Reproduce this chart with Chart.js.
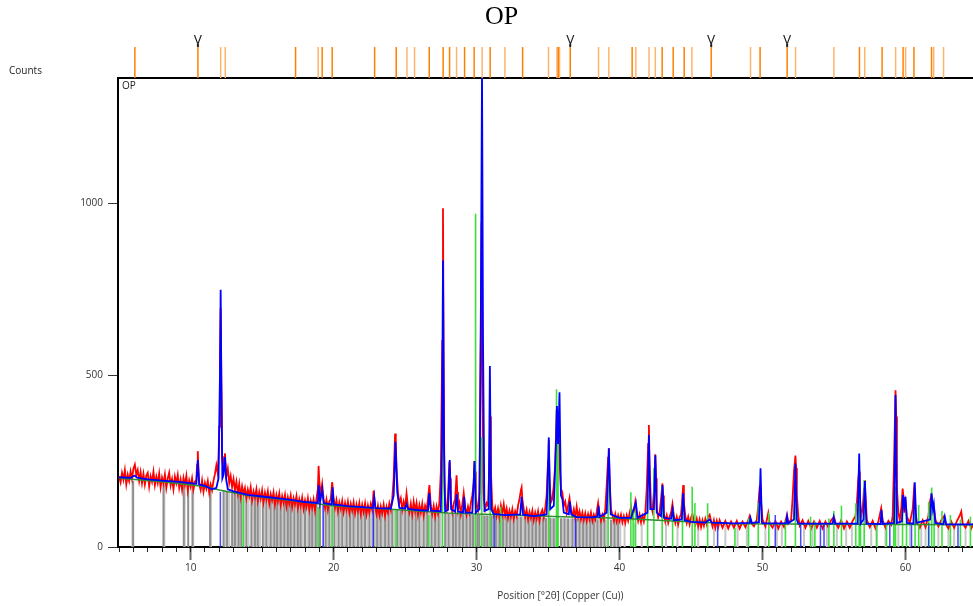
<!DOCTYPE html>
<html>
<head>
<meta charset="utf-8">
<script src="https://cdn.jsdelivr.net/npm/chart.js@4.4.1/dist/chart.umd.min.js"></script>
<style>
  html, body { margin: 0; padding: 0; background: #fff; }
  #wrap { width: 973px; height: 606px; position: relative; }
</style>
</head>
<body>
<div id="wrap"><canvas id="xrd"></canvas></div>
<script>
// axis range, ticks
var xMin = 4.92, xMax = 64.72;
var xFullMax = 66.8;    // the scan runs past the visible edge; axis title is centred on it
var yMax = 1365;
var yTickValues = [0, 500, 1000];
var xMajorTicks = [10, 20, 30, 40, 50, 60];
var xTitle = 'Position [°2θ] (Copper (Cu))';

// observed pattern [2theta, counts]
var observed = [
  [5.0,205],[5.1,188],[5.2,216],[5.3,196],[5.4,224],[5.5,182],[5.6,210],[5.7,192],[5.8,220],[5.9,198],
  [6.0,228],[6.1,240],[6.2,210],[6.3,224],[6.4,192],[6.5,218],[6.6,186],[6.7,213],[6.8,182],[6.9,208],
  [7.0,216],[7.1,176],[7.2,206],[7.3,190],[7.4,219],[7.5,180],[7.6,205],[7.7,186],[7.8,214],[7.9,174],
  [8.0,202],[8.1,184],[8.2,211],[8.3,172],[8.4,200],[8.5,216],[8.6,179],[8.7,198],[8.8,168],[8.9,205],
  [9.0,186],[9.1,210],[9.2,172],[9.3,196],[9.4,166],[9.5,201],[9.6,181],[9.7,207],[9.8,164],[9.9,194],
  [10.0,176],[10.1,200],[10.2,168],[10.3,190],[10.4,196],[10.45,240],[10.5,279],[10.55,225],[10.6,182],[10.7,166],
  [10.8,194],[10.9,161],[11.0,187],[11.1,170],[11.2,192],[11.3,158],[11.4,182],[11.5,166],[11.6,194],[11.7,212],
  [11.8,238],[11.9,214],[11.95,260],[12.0,350],[12.05,520],[12.1,695],[12.15,480],[12.2,260],[12.25,240],[12.3,232],
  [12.35,262],[12.4,273],[12.45,238],[12.5,205],[12.6,228],[12.7,186],[12.8,207],[12.9,174],[13.0,198],[13.1,166],
  [13.2,190],[13.3,156],[13.4,184],[13.5,146],[13.6,177],[13.7,154],[13.8,172],[13.9,142],[14.0,167],[14.1,148],
  [14.2,174],[14.3,136],[14.4,162],[14.5,144],[14.6,168],[14.7,134],[14.8,160],[14.9,140],[15.0,165],[15.1,130],
  [15.2,158],[15.3,138],[15.4,162],[15.5,126],[15.6,154],[15.7,136],[15.8,159],[15.9,124],[16.0,152],[16.1,132],
  [16.2,156],[16.3,122],[16.4,148],[16.5,129],[16.6,152],[16.7,118],[16.8,145],[16.9,126],[17.0,150],[17.1,116],
  [17.2,142],[17.3,124],[17.4,148],[17.5,114],[17.6,139],[17.7,120],[17.8,144],[17.9,111],[18.0,136],[18.1,116],
  [18.2,142],[18.3,108],[18.4,134],[18.5,114],[18.6,138],[18.7,106],[18.8,140],[18.9,170],[18.95,236],[19.0,190],
  [19.1,150],[19.2,183],[19.3,140],[19.4,114],[19.5,138],[19.6,108],[19.7,132],[19.8,140],[19.9,189],[20.0,142],
  [20.1,114],[20.2,136],[20.3,104],[20.4,130],[20.5,111],[20.6,134],[20.7,102],[20.8,128],[20.9,108],[21.0,132],
  [21.1,100],[21.2,126],[21.3,106],[21.4,130],[21.5,98],[21.6,124],[21.7,104],[21.8,128],[21.9,96],[22.0,123],
  [22.1,102],[22.2,127],[22.3,95],[22.4,121],[22.5,100],[22.6,125],[22.7,108],[22.8,164],[22.9,120],[23.0,96],
  [23.1,120],[23.2,92],[23.3,118],[23.4,98],[23.5,123],[23.6,91],[23.7,117],[23.8,100],[23.9,127],[24.0,108],
  [24.1,140],[24.2,200],[24.3,330],[24.35,300],[24.4,230],[24.5,160],[24.6,128],[24.7,142],[24.8,108],[24.9,132],
  [25.0,114],[25.1,156],[25.2,118],[25.3,100],[25.4,126],[25.5,96],[25.6,132],[25.7,104],[25.8,128],[25.9,94],
  [26.0,122],[26.1,100],[26.2,126],[26.3,92],[26.4,120],[26.5,106],[26.6,140],[26.7,180],[26.8,120],[26.9,96],
  [27.0,120],[27.1,90],[27.2,118],[27.3,98],[27.4,130],[27.5,220],[27.6,600],[27.65,986],[27.7,520],[27.75,190],
  [27.8,122],[27.9,108],[28.0,150],[28.1,248],[28.15,200],[28.2,130],[28.3,102],[28.4,126],[28.5,140],[28.6,209],
  [28.65,160],[28.7,110],[28.8,128],[28.9,96],[29.0,124],[29.1,157],[29.2,116],[29.3,94],[29.4,118],[29.5,100],
  [29.6,128],[29.7,150],[29.8,186],[29.85,250],[29.9,220],[29.95,150],[30.0,120],[30.1,108],[30.2,160],[30.3,620],
  [30.35,944],[30.4,560],[30.45,180],[30.5,140],[30.6,110],[30.7,128],[30.8,120],[30.9,250],[30.95,380],[31.0,220],
  [31.1,118],[31.2,94],[31.3,114],[31.4,90],[31.5,112],[31.6,86],[31.7,120],[31.8,96],[31.9,124],[32.0,92],
  [32.1,112],[32.2,84],[32.3,106],[32.4,88],[32.5,110],[32.6,82],[32.7,104],[32.8,90],[32.9,120],[33.0,140],
  [33.1,165],[33.15,173],[33.2,140],[33.3,110],[33.4,88],[33.5,108],[33.6,80],[33.7,102],[33.8,84],[33.9,106],
  [34.0,78],[34.1,100],[34.2,82],[34.3,104],[34.4,76],[34.5,98],[34.6,108],[34.7,86],[34.8,112],[34.9,150],
  [35.0,250],[35.05,311],[35.1,200],[35.2,130],[35.3,140],[35.4,180],[35.5,240],[35.6,400],[35.65,300],[35.7,340],
  [35.75,330],[35.8,250],[35.9,170],[36.0,158],[36.1,120],[36.2,132],[36.3,100],[36.4,120],[36.5,142],[36.6,106],
  [36.7,92],[36.8,110],[36.9,84],[37.0,117],[37.1,86],[37.2,104],[37.3,80],[37.4,100],[37.5,78],[37.6,98],
  [37.7,76],[37.8,96],[37.9,80],[38.0,100],[38.1,76],[38.2,94],[38.3,80],[38.4,102],[38.5,128],[38.6,96],
  [38.7,76],[38.8,94],[38.9,80],[39.0,110],[39.1,180],[39.2,260],[39.25,287],[39.3,200],[39.4,110],[39.5,94],
  [39.6,76],[39.7,96],[39.8,74],[39.9,92],[40.0,76],[40.1,94],[40.2,72],[40.3,90],[40.4,70],[40.5,92],
  [40.6,76],[40.7,98],[40.8,117],[40.9,88],[41.0,104],[41.1,132],[41.2,100],[41.3,76],[41.4,94],[41.5,72],
  [41.6,90],[41.7,74],[41.8,100],[41.9,170],[42.0,300],[42.05,355],[42.1,240],[42.2,120],[42.3,104],[42.4,160],
  [42.5,270],[42.55,200],[42.6,110],[42.7,86],[42.8,100],[42.9,140],[43.0,185],[43.05,150],[43.1,96],[43.2,74],
  [43.3,92],[43.4,70],[43.5,88],[43.6,100],[43.7,125],[43.8,90],[43.9,70],[44.0,88],[44.1,66],[44.2,86],
  [44.3,96],[44.4,150],[44.45,180],[44.5,130],[44.6,90],[44.7,70],[44.8,88],[44.9,66],[45.0,86],[45.1,96],
  [45.2,72],[45.3,64],[45.4,82],[45.5,60],[45.6,80],[45.7,58],[45.8,78],[45.9,62],[46.0,82],[46.1,66],
  [46.2,88],[46.3,94],[46.4,76],[46.5,60],[46.6,78],[46.7,56],[46.8,76],[46.9,58],[47.0,78],[47.2,56],
  [47.4,76],[47.6,54],[47.8,74],[48.0,56],[48.2,76],[48.4,54],[48.6,74],[48.8,58],[49.0,78],[49.1,90],
  [49.2,70],[49.4,60],[49.6,80],[49.7,120],[49.8,175],[49.85,180],[49.9,130],[50.0,80],[50.2,60],[50.4,99],
  [50.5,68],[50.7,56],[50.9,76],[51.1,54],[51.3,74],[51.5,58],[51.7,92],[51.8,68],[52.0,80],[52.1,140],
  [52.2,220],[52.3,266],[52.35,230],[52.4,150],[52.5,90],[52.6,62],[52.8,78],[53.0,56],[53.2,76],[53.4,54],
  [53.6,74],[53.8,56],[54.0,76],[54.2,54],[54.4,74],[54.6,58],[54.8,78],[55.0,88],[55.1,70],[55.3,56],
  [55.5,78],[55.7,54],[55.9,74],[56.1,56],[56.3,76],[56.5,90],[56.6,130],[56.7,200],[56.75,220],[56.8,150],
  [56.9,90],[57.0,110],[57.1,170],[57.15,195],[57.2,150],[57.3,78],[57.5,58],[57.7,76],[57.9,54],[58.1,74],
  [58.3,113],[58.4,78],[58.6,56],[58.8,76],[59.0,64],[59.1,90],[59.2,250],[59.3,456],[59.35,380],[59.4,170],
  [59.5,100],[59.6,78],[59.7,110],[59.8,170],[59.85,150],[59.9,100],[60.0,130],[60.1,88],[60.3,70],[60.5,110],
  [60.6,170],[60.65,160],[60.7,100],[60.8,72],[61.0,56],[61.2,78],[61.4,58],[61.6,90],[61.7,130],[61.8,150],
  [61.85,140],[61.9,120],[62.0,110],[62.1,78],[62.3,60],[62.5,78],[62.7,90],[62.8,68],[63.0,54],[63.2,74],
  [63.4,56],[63.6,76],[63.8,92],[63.9,103],[64.0,68],[64.2,56],[64.4,76],[64.6,54],[64.8,72],[65.0,60]
];

// calculated profile
var calculated = [
  [5.0,203],[5.8,201],[6.0,206],[6.1,208],[6.25,202],[7.0,197],[8.0,193],[9.0,190],[10.0,186],[10.4,184],
  [10.5,253],[10.6,182],[11.0,178],[11.5,168],[11.8,172],[11.95,200],[12.05,500],[12.1,749],[12.15,480],[12.22,200],
  [12.3,210],[12.4,262],[12.48,200],[12.6,168],[13.0,162],[13.5,157],[14.0,152],[15.0,147],[16.0,142],[17.0,137],
  [18.0,131],[18.9,128],[18.95,180],[19.05,130],[19.2,169],[19.3,128],[19.85,124],[19.93,174],[20.0,124],[21.0,119],
  [22.0,116],[22.75,114],[22.84,146],[22.92,114],[23.0,113],[24.0,112],[24.2,150],[24.33,306],[24.45,160],[24.6,114],
  [25.0,112],[25.1,125],[25.2,111],[26.0,107],[26.6,106],[26.69,157],[26.8,106],[27.5,104],[27.58,300],[27.65,834],
  [27.72,300],[27.8,104],[28.0,108],[28.12,253],[28.22,110],[28.5,103],[28.6,154],[28.7,103],[29.05,100],[29.13,146],
  [29.22,100],[29.7,100],[29.86,250],[29.95,100],[30.2,110],[30.3,700],[30.38,1390],[30.45,600],[30.55,105],[30.85,110],
  [30.93,527],[31.02,110],[31.2,96],[32.0,93],[33.05,95],[33.15,146],[33.25,94],[34.0,90],[34.9,95],[35.05,319],
  [35.15,110],[35.4,120],[35.55,300],[35.62,410],[35.7,300],[35.8,450],[35.9,150],[36.0,140],[36.1,100],[36.45,95],
  [36.53,132],[36.62,95],[37.0,87],[38.0,86],[38.45,88],[38.53,120],[38.6,88],[39.1,100],[39.25,287],[39.38,95],
  [40.0,85],[40.8,85],[41.14,129],[41.25,85],[41.95,100],[42.05,326],[42.15,110],[42.4,110],[42.5,267],[42.6,100],
  [42.9,90],[43.0,180],[43.1,85],[43.6,82],[43.71,110],[43.8,78],[44.35,80],[44.45,157],[44.55,78],[45.0,73],
  [46.0,71],[46.3,80],[46.45,71],[47.0,70],[48.0,69],[49.1,70],[49.16,84],[49.25,70],[49.75,72],[49.86,229],
  [49.95,72],[50.0,69],[51.65,69],[51.72,90],[51.8,69],[52.2,80],[52.3,243],[52.4,80],[52.5,68],[54.9,68],
  [54.98,87],[55.08,68],[56.65,68],[56.76,272],[56.86,68],[57.06,80],[57.16,192],[57.26,68],[58.25,67],[58.32,108],
  [58.4,67],[59.2,70],[59.3,442],[59.4,70],[59.75,75],[59.83,151],[59.92,120],[60.0,146],[60.1,70],[60.55,68],
  [60.65,188],[60.75,70],[61.72,80],[61.82,156],[61.92,110],[61.98,125],[62.08,70],[62.65,66],[62.75,88],[62.85,66],
  [65.0,66]
];

// fitted background
var background = [
  [5,200],[8,190],[11,176],[12,166],[14,150],[17,135],[20,120],[24,110],[28,99],[32,93],
  [36,88],[40,84],[44,75],[48,68],[56,66],[65,65]
];

// reference sticks [2theta, height]
var grayDark = [
  [5.98,192],[8.1,182],[9.52,180],[9.83,178],[10.13,176],[11.36,168],
  [12.3,165],[12.55,162],[12.9,160],[13.1,158],[13.35,156],[13.55,155],[13.9,152],[14.25,150],[14.5,148],[14.7,147],
  [15.05,145],[15.3,144],[15.6,142],[15.85,141],[16.05,140],[16.3,139],[16.55,138],[16.8,136],[17.0,135],[17.25,134],
  [17.5,133],[17.7,131],[18.0,130],[18.3,128],[18.5,127],[18.75,126],[19.05,124],[19.45,122],[19.7,121],[20.05,120],
  [20.35,119],[20.6,118],[20.9,117],[21.15,116],[21.4,116],[21.7,115],[21.95,114],[22.2,113],[22.5,112],[22.8,112],
  [23.05,111],[23.3,110],[23.6,110],[23.85,109],[24.1,108],[24.45,108],[24.7,107],[25.0,107],[25.25,106],[25.5,105],
  [25.75,104],[26.0,104],[26.3,103],[26.55,102],[26.85,101],[27.1,100],[27.35,100],[27.8,99],[28.05,98],[28.35,97],
  [28.55,97],[28.8,96],[29.05,95],[29.3,95],[29.55,94],[29.75,94],[30.05,93],[30.2,93],[30.55,92],[30.75,92],
  [31.05,91],[31.35,91],[31.6,90],[31.85,90],[32.1,89],[32.35,89],[32.6,88],[32.85,88],[33.1,88],[33.4,87],
  [33.65,87],[33.9,86],[34.15,86],[34.4,86],[34.65,85],[34.85,85],[35.15,85],[35.4,84],[35.9,84],[36.15,84],
  [36.4,83],[36.7,83],[36.95,83],[37.2,82],[37.45,82],[37.7,82],[37.95,81],[38.2,81],[38.45,81],[38.7,80],
  [38.95,80],[39.4,79],[39.65,79],[39.9,78]
];
var grayLight = [
  [5.93,192],[8.16,182],[9.58,180],[10.18,176],[11.42,168],[12.42,164],[12.7,161],[13.0,159],[13.22,157],[13.45,156],
  [13.75,153],[14.05,151],[14.38,149],[14.6,148],[14.85,146],[15.18,145],[15.45,143],[15.72,142],[15.95,141],[16.18,140],
  [16.42,139],[16.68,137],[16.9,136],[17.12,135],[17.38,134],[17.6,132],[17.85,131],[18.15,129],[18.4,128],[18.62,127],
  [18.85,125],[19.3,123],[19.58,122],[19.85,120],[20.2,119],[20.48,118],[20.75,118],[21.02,117],[21.28,116],[21.55,115],
  [21.82,114],[22.08,114],[22.35,113],[22.65,112],[22.95,111],[23.18,111],[23.45,110],[23.72,109],[23.98,109],[24.25,108],
  [24.58,107],[24.85,107],[25.12,106],[25.38,105],[25.62,105],[25.88,104],[26.15,103],[26.42,102],[26.7,102],[26.98,101],
  [27.22,100],[27.48,100],[27.92,99],[28.2,98],[28.45,97],[28.68,96],[28.92,96],[29.18,95],[29.42,94],[29.65,94],
  [29.88,93],[30.12,93],[30.45,92],[30.65,92],[30.88,91],[31.18,91],[31.48,90],[31.72,90],[31.98,89],[32.22,89],
  [32.48,88],[32.72,88],[32.98,88],[33.25,87],[33.52,87],[33.78,86],[34.02,86],[34.28,86],[34.52,85],[34.75,85],
  [35.0,85],[35.28,84],[35.52,84],[36.02,84],[36.28,83],[36.55,83],[36.82,83],[37.08,82],[37.32,82],[37.58,82],
  [37.82,81],[38.08,81],[38.32,81],[38.58,80],[38.82,80],[39.1,80],[39.52,79],[39.78,79],[40.05,78],
  [40.35,70],[41.05,69],[41.55,68],[43.25,67],[44.05,66],[45.5,66],[46.6,66],[47.4,66],[48.25,66],[48.9,66],
  [50.2,66],[51.0,66],[51.35,66],[52.9,66],[53.5,66],[54.5,66],[55.2,66],[55.85,66],[56.25,66],[57.6,66],
  [58.0,66],[58.6,66],[59.5,66],[60.3,66],[61.1,66],[61.4,66],[62.3,66],[63.0,66],[63.4,66],[64.2,66]
];
var greenSticks = [
  [13.68,146],[18.92,117],[19.9,161],[24.36,110],[26.64,93],[27.62,340],[29.93,970],[30.36,320],[30.95,384],[31.68,117],
  [35.05,238],[35.59,459],[35.7,300],[39.2,214],[40.79,159],[40.95,110],[41.12,108],[41.96,151],[42.4,230],[42.98,175],
  [43.71,108],[44.4,132],[45.08,175],[45.27,128],[46.16,127],[48.07,55],[49.02,84],[49.7,128],[50.44,100],[51.6,78],
  [52.3,185],[53.36,88],[53.66,74],[54.64,83],[54.99,105],[55.52,120],[56.52,127],[56.76,170],[56.85,100],[57.11,195],
  [57.97,69],[58.67,70],[59.18,88],[59.3,175],[59.79,108],[60.07,98],[60.67,100],[60.92,122],[61.62,132],[61.83,173],
  [62.0,105],[62.55,105],[63.14,93],[63.84,80],[64.54,88]
];
var blueSticks = [
  [12.08,160],[19.27,122],[22.77,110],[31.23,95],[36.92,82],[46.86,62],[50.89,93],[52.67,68],[54.05,66],[54.3,66],
  [58.9,64],[60.42,68],[61.62,70],[63.67,66]
];

// phase position marks in the top strip
var orangeDark = [6.1,10.51,17.34,19.2,19.9,22.87,24.38,26.69,27.66,28.11,29.16,29.83,30.95,33.22,35.71,36.55,
  40.88,42.98,43.75,44.52,46.41,49.83,51.72,56.78,58.36,59.83,60.59,61.82];
var orangeLight = [12.1,12.42,18.92,25.13,25.66,28.6,30.39,31.98,35.03,35.62,35.8,38.53,39.25,41.14,42.06,42.5,
  45.06,49.16,52.31,54.99,57.15,59.31,60.01,61.97,62.66];
var vMarks = [10.51, 36.55, 46.41, 51.72];

var stripTop = 31;      // tick height in strip units
var stripRange = 44.8;

function sticks(list, base) {
  var pts = [];
  list.forEach(function (s) {
    pts.push({x: s[0], y: base}, {x: s[0], y: s[1]}, {x: s[0], y: null});
  });
  return pts;
}
function line(list) {
  return list.map(function (p) { return {x: p[0], y: p[1]}; });
}

function lineSet(label, data, color, width, order, axis) {
  return {
    label: label, data: data, borderColor: color, borderWidth: width,
    pointRadius: 0, tension: 0, fill: false, spanGaps: false,
    order: order, yAxisID: axis || 'y'
  };
}

var textPlugin = {
  id: 'xrdText',
  afterDraw: function (chart) {
    var ctx = chart.ctx, x = chart.scales.x, yS = chart.scales.yS, y = chart.scales.y;
    ctx.save();
    ctx.fillStyle = '#222';
    ctx.font = '10px "Open Sans"';
    ctx.textBaseline = 'middle';
    ctx.textAlign = 'left';
    ctx.fillText('Counts', 9, yS.getPixelForValue(7));
    ctx.fillText('OP', chart.chartArea.left + 4, y.top + 8);
    ctx.fillStyle = '#333';
    ctx.textAlign = 'center';
    ctx.fillText(xTitle, x.getPixelForValue((xMin + xFullMax) / 2), x.bottom - 10);
    ctx.fillStyle = '#222';
    ctx.font = '12px "DejaVu Sans"';
    vMarks.forEach(function (v) {
      ctx.fillText('V', x.getPixelForValue(v), yS.getPixelForValue(37));
    });
    ctx.restore();
  }
};

var datasets = [
  lineSet('calc', line(calculated), '#0000ff', 1.8, 1),
  lineSet('bg', line(background), '#2f8f2f', 1.5, 2),
  lineSet('blueSticks', sticks(blueSticks, 0), 'rgba(40,40,255,0.85)', 1.5, 3),
  lineSet('green', sticks(greenSticks, 0), '#3ee03e', 1.6, 4),
  lineSet('obs', line(observed), '#ff0000', 1.8, 5),
  lineSet('grayDark', sticks(grayDark, 0), '#8f8f8f', 2, 6),
  lineSet('grayLight', sticks(grayLight, 0), '#c8c8c8', 2, 7),
  lineSet('orange', sticks(orangeDark.map(function (t) { return [t, stripTop]; }), 0), '#ff8000', 1.5, 8, 'yS'),
  lineSet('orangeLight', sticks(orangeLight.map(function (t) { return [t, stripTop]; }), 0), '#ffb46e', 1.5, 9, 'yS'),
  lineSet('vStem', sticks(vMarks.map(function (t) { return [t, stripTop + 3]; }), stripTop), '#222', 2, 0, 'yS')
];

new Chart(document.getElementById('xrd'), {
  type: 'line',
  data: { datasets: datasets },
  plugins: [textPlugin],
  options: {
    responsive: true,
    maintainAspectRatio: false,
    animation: false,
    events: [],
    layout: { padding: { left: 0, right: -30, top: 0, bottom: 0 } },
    font: { family: 'Open Sans' },
    plugins: {
      legend: { display: false },
      tooltip: { enabled: false },
      title: {
        display: true, text: 'OP', color: '#000',
        font: { family: 'Liberation Serif', size: 26, weight: 'normal' },
        padding: { top: 2, bottom: 0 }
      }
    },
    scales: {
      x: {
        type: 'linear', position: 'bottom', min: xMin, max: xMax,
        afterBuildTicks: function (s) { s.ticks = xMajorTicks.map(function (v) { return {value: v}; }); },
        afterFit: function (s) { s.height = 59; },
        grid: { drawOnChartArea: false, tickLength: 13, tickColor: '#666', tickWidth: 2 },
        border: { color: '#000', width: 2 },
        ticks: { color: '#333', padding: 2, maxRotation: 0, autoSkip: false,
          font: { family: 'Open Sans', size: 10 },
          callback: function (v) { return String(v); } }
      },
      xMinor: {
        type: 'linear', axis: 'x', position: { y: 0 }, min: xMin, max: xMax,
        afterBuildTicks: function (s) {
          var t = [];
          for (var v = Math.ceil(xMin); v <= Math.floor(xMax); v++) t.push({value: v});
          s.ticks = t;
        },
        grid: { drawOnChartArea: false, tickLength: 5, tickColor: '#222', tickWidth: 1 },
        border: { display: false },
        ticks: { display: false }
      },
      y: {
        type: 'linear', position: 'left', min: 0, max: yMax,
        stack: 'v', stackWeight: 469, weight: 0,
        afterBuildTicks: function (s) { s.ticks = yTickValues.map(function (v) { return {value: v}; }); },
        afterFit: function (s) { s.width = 118; },
        grid: { drawOnChartArea: false, tickLength: 10, tickColor: '#333', tickWidth: 1 },
        border: { color: '#000', width: 2 },
        ticks: { color: '#333', padding: 5, font: { family: 'Open Sans', size: 10 },
          callback: function (v) { return String(v); } }
      },
      yS: {
        type: 'linear', position: 'left', min: 0, max: stripRange,
        stack: 'v', stackWeight: stripRange, weight: 1,
        afterBuildTicks: function (s) { s.ticks = [{value: 0}]; },
        afterFit: function (s) { s.width = 118; },
        grid: { drawOnChartArea: true, drawTicks: false, color: '#000', lineWidth: 2 },
        border: { display: false },
        ticks: { display: false }
      }
    }
  }
});
</script>
</body>
</html>
